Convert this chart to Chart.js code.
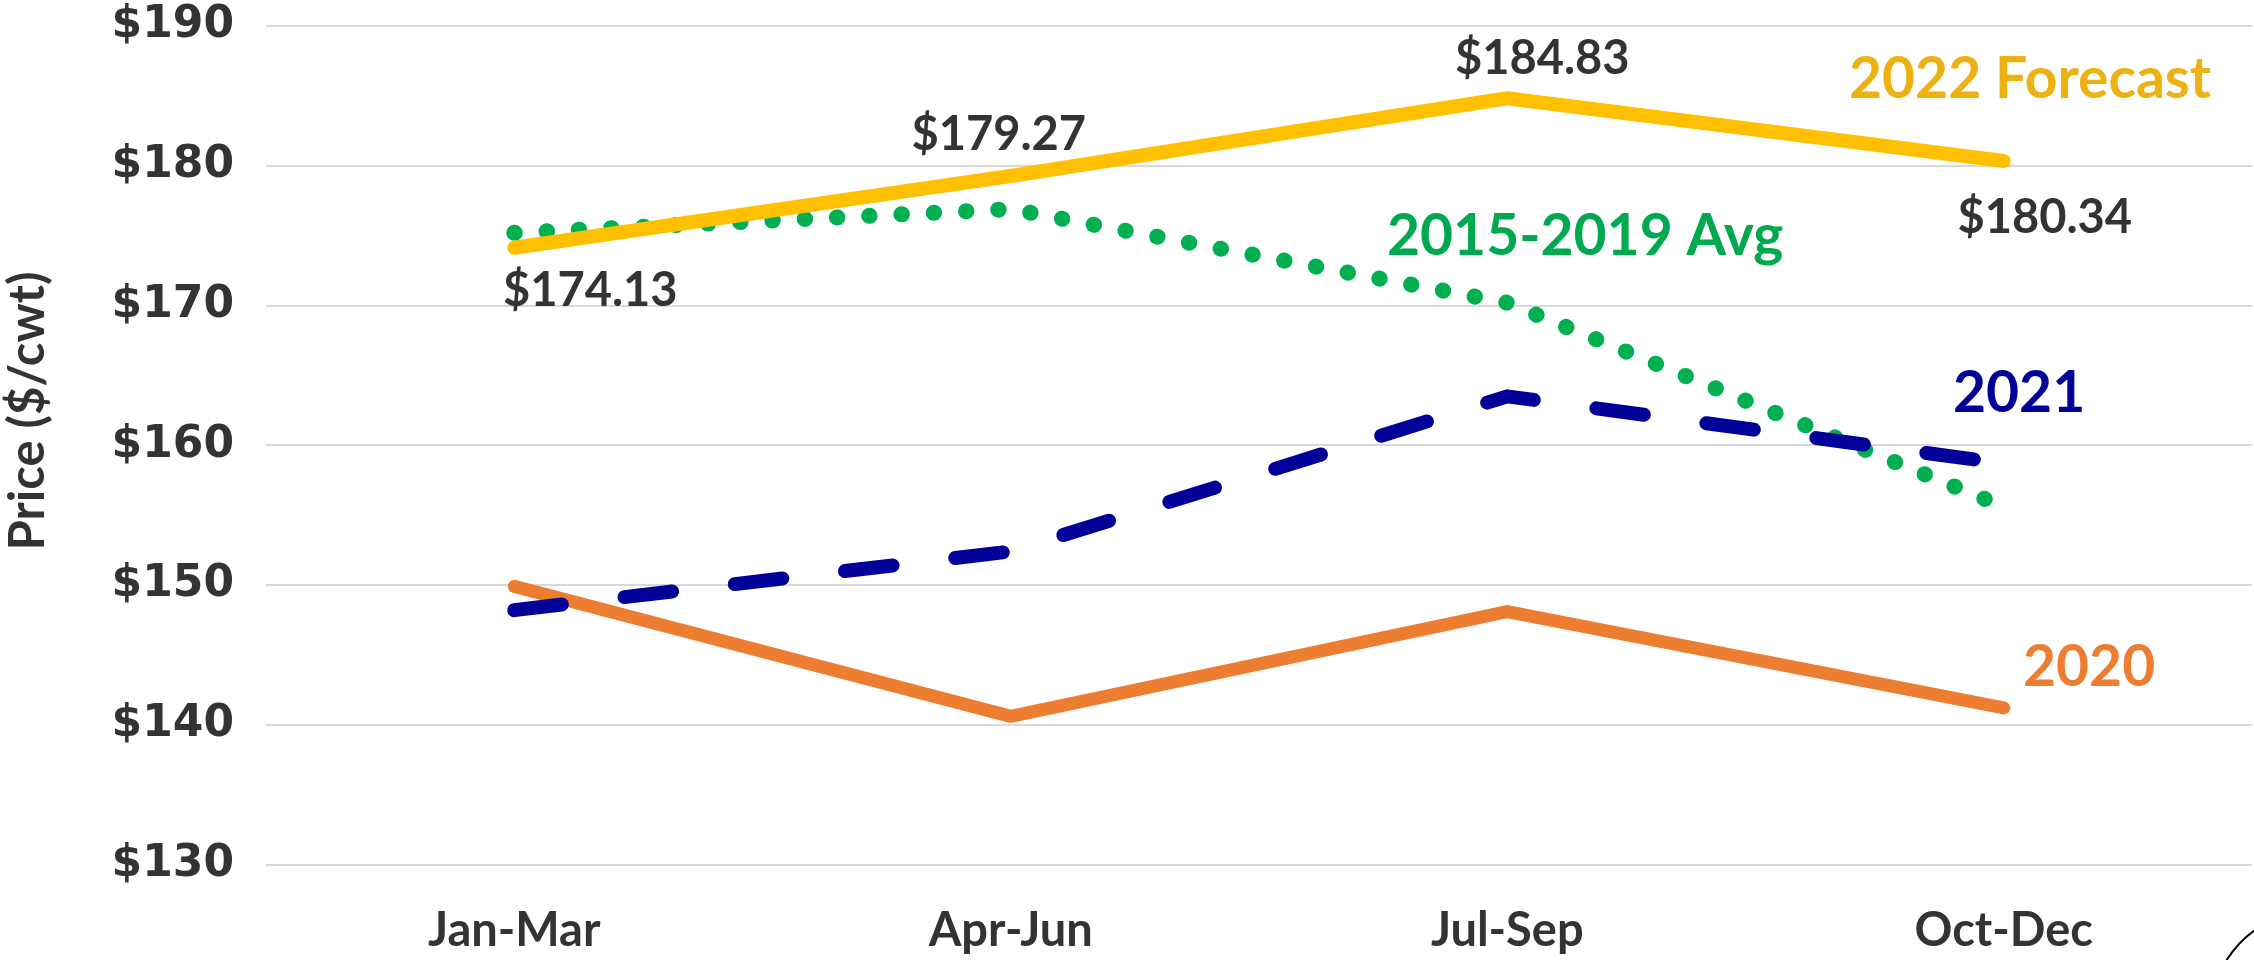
<!DOCTYPE html>
<html><head><meta charset="utf-8">
<script src="https://cdn.jsdelivr.net/npm/chart.js@4.4.0/dist/chart.umd.min.js"></script>
<style>html,body{margin:0;padding:0;background:#fff;}#wrap{width:2254px;height:960px;}</style>
</head><body><div id="wrap"><canvas id="c" width="2254" height="960"></canvas></div>
<script>
// ---- data ----
const categories = ['Jan-Mar', 'Apr-Jun', 'Jul-Sep', 'Oct-Dec'];
const forecast2022 = [174.13, 179.27, 184.83, 180.34];
const avg2015to2019 = [175.2, 176.9, 170.2, 155.6];
const values2021 = [148.2, 152.4, 163.5, 158.7];
const values2020 = [149.9, 140.6, 148.1, 141.2];
const yTickValues = [130, 140, 150, 160, 170, 180, 190];
const seriesNames = ['2022 Forecast', '2015-2019 Avg', '2021', '2020'];
const yAxisTitle = 'Price ($/cwt)';

const CAL = 'Lato, "Open Sans", sans-serif';
const TXT = '#333333';

const overlay = {
  id: 'overlay',
  afterDatasetsDraw(chart) {
    const ctx = chart.ctx;
    ctx.save();
    // data labels on forecast series
    const meta = chart.getDatasetMeta(0);
    const off = [[76, 58], [-12, -26], [35, -24], [41, 72]];
    ctx.font = 'bold 47px ' + CAL;
    ctx.fillStyle = TXT;
    ctx.textAlign = 'center';
    ctx.textBaseline = 'alphabetic';
    meta.data.forEach((pt, i) => {
      ctx.fillText('$' + forecast2022[i].toFixed(2), pt.x + off[i][0], pt.y + off[i][1]);
    });
    // series name labels
    ctx.font = 'bold 57px ' + CAL;
    ctx.textAlign = 'left';
    const names = [
      [seriesNames[0], '#EDB211', 1849, 98],
      [seriesNames[1], '#00A94F', 1387, 255],
      [seriesNames[2], '#000099', 1953, 412],
      [seriesNames[3], '#ED7D31', 2023, 686]
    ];
    names.forEach(n => { ctx.fillStyle = n[1]; ctx.fillText(n[0], n[2], n[3]); });
    // y-axis title
    ctx.font = 'bold 49px ' + CAL;
    ctx.fillStyle = TXT;
    ctx.translate(44, 411);
    ctx.rotate(-Math.PI / 2);
    ctx.textAlign = 'center';
    ctx.fillText(yAxisTitle, 0, 0);
    ctx.restore();
    // corner arc artifact
    ctx.save();
    ctx.strokeStyle = '#000';
    ctx.lineWidth = 2;
    ctx.beginPath();
    ctx.moveTo(2226, 961);
    ctx.quadraticCurveTo(2238, 942, 2255, 930);
    ctx.stroke();
    ctx.restore();
  }
};

function zeroPad(s) { s.paddingTop = 0; s.paddingBottom = 0; s.paddingLeft = 0; s.paddingRight = 0; }

new Chart(document.getElementById('c'), {
  type: 'line',
  data: {
    labels: categories,
    datasets: [
      { label: seriesNames[0], data: forecast2022, borderColor: '#FFC000', borderWidth: 14,
        borderCapStyle: 'round', borderJoinStyle: 'round', pointRadius: 0, tension: 0 },
      { label: seriesNames[2], data: values2021, borderColor: '#000099', borderWidth: 14,
        borderDash: [48, 63], borderCapStyle: 'round', borderJoinStyle: 'round', pointRadius: 0, tension: 0 },
      { label: seriesNames[1], data: avg2015to2019, borderColor: '#00B050', borderWidth: 16,
        borderDash: [0.5, 31.8], borderCapStyle: 'round', borderJoinStyle: 'round', pointRadius: 0, tension: 0 },
      { label: seriesNames[3], data: values2020, borderColor: '#ED7D31', borderWidth: 13,
        borderCapStyle: 'round', borderJoinStyle: 'round', pointRadius: 0, tension: 0 }
    ]
  },
  options: {
    responsive: false,
    animation: false,
    devicePixelRatio: 1,
    layout: { padding: { top: 26, right: 2, left: 0, bottom: 0 } },
    plugins: { legend: { display: false }, tooltip: { enabled: false } },
    scales: {
      x: {
        offset: true,
        grid: { display: false, drawTicks: false },
        border: { display: false },
        ticks: { color: TXT, font: { family: CAL, size: 47, weight: 'bold' }, padding: 38,
                 maxRotation: 0, autoSkip: false },
        afterFit(s) { s.height = 95.5; zeroPad(s); }
      },
      y: {
        min: 130, max: 190,
        grid: { color: '#D9D9D9', lineWidth: 2, drawTicks: false },
        border: { display: false },
        afterBuildTicks(s) { s.ticks = yTickValues.map(v => ({ value: v })); },
        ticks: { color: TXT, font: { family: '"DejaVu Sans"', size: 44, weight: 'bold' }, padding: 32,
                 callback: v => '$' + v },
        afterFit(s) { s.width = 266; zeroPad(s); }
      }
    }
  },
  plugins: [overlay]
});
</script></body></html>
